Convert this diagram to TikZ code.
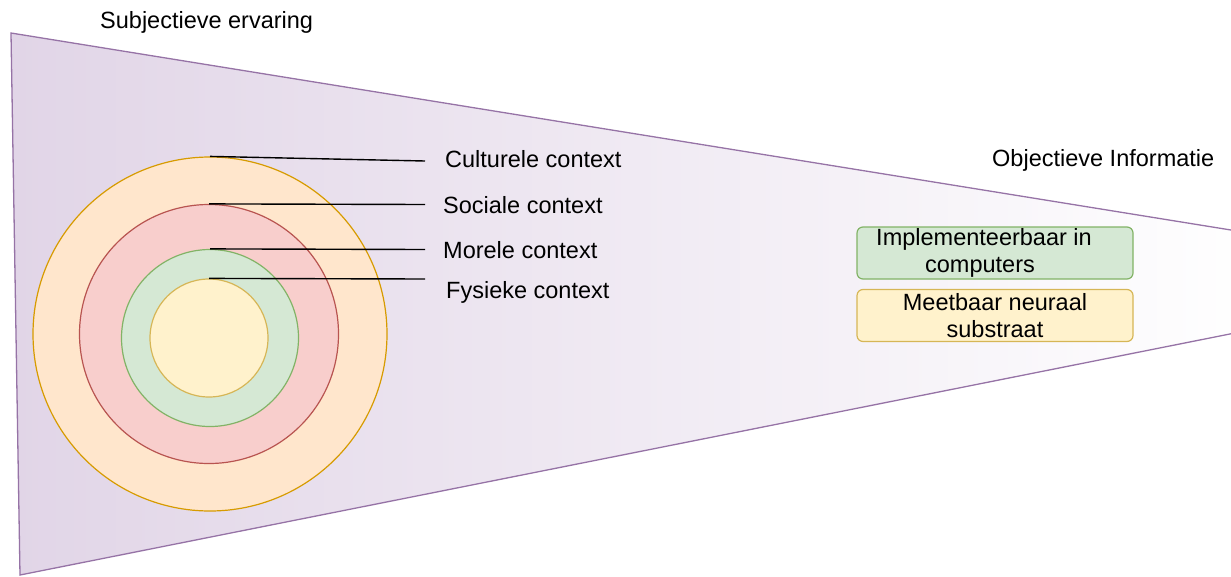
\documentclass[tikz,border=0pt]{standalone}
\usepackage{fontspec}
\setmainfont{Liberation Sans}
\definecolor{conefill}{HTML}{E1D5E7}
\definecolor{conestroke}{HTML}{9673A6}
\definecolor{culturefill}{HTML}{FFE6CC}
\definecolor{culturestroke}{HTML}{D79B00}
\definecolor{socialfill}{HTML}{F8CECC}
\definecolor{socialstroke}{HTML}{B85450}
\definecolor{moralfill}{HTML}{D5E8D4}
\definecolor{moralstroke}{HTML}{82B366}
\definecolor{physfill}{HTML}{FFF2CC}
\definecolor{physstroke}{HTML}{D6B656}
\begin{document}
\begin{tikzpicture}[x=1pt, y=-1pt,
  ring/.style={circle, line width=1.2pt, inner sep=0pt},
  leader/.style={draw=black, line width=1.4pt},
  lbl/.style={anchor=base west, inner sep=0pt, font=\fontsize{23.5}{27}\selectfont},
  infobox/.style={rounded corners=6pt, line width=1.2pt, inner sep=0pt,
    minimum width=276pt, minimum height=52pt, align=center,
    font=\fontsize{23.5}{26.5}\selectfont}]
% Picture frame
\clip (0,0) rectangle (1231,576);

% The cone from subjective to objective
\draw[draw=conestroke, line width=1.3pt, left color=conefill, right color=white]
  (11,33) -- (1260,234.7) -- (1260,328) -- (20,575) -- cycle;
\node[lbl] (subjlbl) at (100,28) {Subjectieve ervaring};
\node[lbl] (objlbl) at (992,166) {Objectieve Informatie};

% Context rings
\node[ring, draw=culturestroke, fill=culturefill, minimum size=354pt] (culturele) at (210,334) {};
\node[ring, draw=socialstroke, fill=socialfill, minimum size=259pt] (sociale) at (209,334) {};
\node[ring, draw=moralstroke, fill=moralfill, minimum size=177pt] (morele) at (210,338) {};
\node[ring, draw=physstroke, fill=physfill, minimum size=118pt] (fysieke) at (209,338) {};

% Leader lines and labels
\coordinate (culturele end) at (425,161);
\coordinate (sociale end) at (425,204.5);
\coordinate (morele end) at (425,249.5);
\coordinate (fysieke end) at (425,279);
\draw[leader] (culturele.north) -- (culturele end);
\draw[leader] (sociale.north) -- (sociale end);
\draw[leader] (morele.north) -- (morele end);
\draw[leader] (fysieke.north) -- (fysieke end);
\node[lbl] (culturelelbl) at (445,167) {Culturele context};
\node[lbl] (socialelbl) at (443,213) {Sociale context};
\node[lbl] (morelelbl) at (443,258) {Morele context};
\node[lbl] (fysiekelbl) at (446,298) {Fysieke context};

% Measurable side
\node[infobox, draw=moralstroke, fill=moralfill] (computers) at (995,253)
  {Implementeerbaar in\hspace*{22pt}\\computers\hspace*{30pt}};
\node[infobox, draw=physstroke, fill=physfill] (substraat) at (995,315.5) {Meetbaar neuraal\\substraat};
\end{tikzpicture}
\end{document}
